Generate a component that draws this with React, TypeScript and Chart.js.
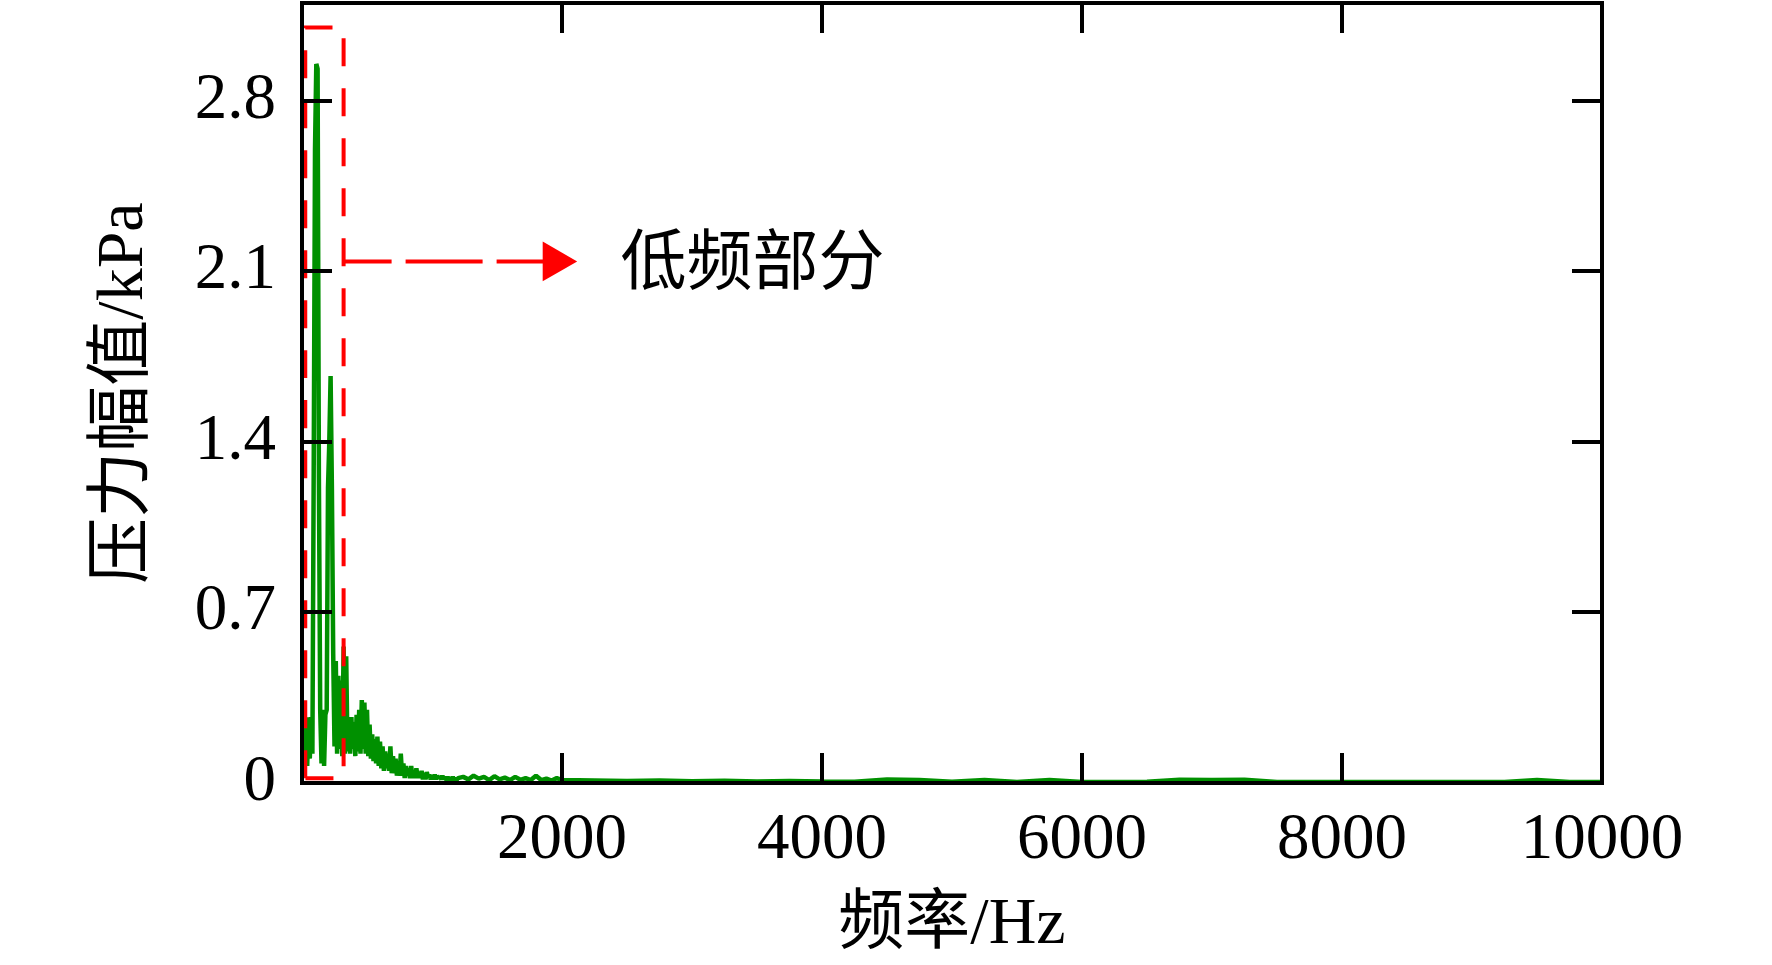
import { useEffect, useRef } from "react";
import { Chart, registerables } from "chart.js";

Chart.register(...registerables);

// Pressure amplitude spectrum (kPa).
// 0–1200 Hz, one bin every 10 Hz
const LOW_START_HZ = 0;
const LOW_STEP_HZ = 10;
const LOW_AMP = [
  0.04, 0.20, 0.05, 0.24, 0.07, 0.27, 0.10, 0.27, 0.12, 1.28,
  2.60, 2.95, 2.93, 1.25, 0.30, 0.08, 0.30, 0.07, 0.28, 0.30,
  1.21, 1.40, 1.67, 1.21, 0.53, 0.15, 0.50, 0.12, 0.44, 0.14,
  0.42, 0.11, 0.56, 0.12, 0.52, 0.13, 0.26, 0.12, 0.27, 0.14,
  0.25, 0.11, 0.28, 0.13, 0.30, 0.12, 0.34, 0.14, 0.33, 0.12,
  0.30, 0.11, 0.24, 0.10, 0.20, 0.09, 0.18, 0.08, 0.19, 0.07,
  0.17, 0.06, 0.15, 0.05, 0.13, 0.06, 0.12, 0.05, 0.15, 0.04,
  0.11, 0.04, 0.10, 0.03, 0.09, 0.03, 0.12, 0.03, 0.08, 0.02,
  0.07, 0.03, 0.06, 0.02, 0.07, 0.02, 0.05, 0.02, 0.06, 0.02,
  0.045, 0.02, 0.05, 0.015, 0.04, 0.015, 0.045, 0.02, 0.035, 0.015,
  0.03, 0.015, 0.035, 0.015, 0.03, 0.02, 0.025, 0.015, 0.03, 0.015,
  0.025, 0.012, 0.025, 0.012, 0.022, 0.012, 0.025, 0.012, 0.02, 0.012,
  0.02,
];
// 1240–2000 Hz, every 40 Hz
const MID_START_HZ = 1240;
const MID_STEP_HZ = 40;
const MID_AMP = [
  0.025, 0.015, 0.03, 0.018, 0.025, 0.012, 0.028, 0.015, 0.022, 0.012,
  0.025, 0.013, 0.02, 0.012, 0.03, 0.012, 0.018, 0.01, 0.02, 0.012,
];
// 2250–10000 Hz, every 250 Hz
const HIGH_START_HZ = 2250;
const HIGH_STEP_HZ = 250;
const HIGH_AMP = [
  0.010, 0.008, 0.010, 0.007, 0.009, 0.006, 0.008, 0.006, 0.005, 0.014,
  0.012, 0.005, 0.012, 0.004, 0.012, 0.004, 0.004, 0.005, 0.013, 0.012,
  0.013, 0.004, 0.004, 0.004, 0.004, 0.004, 0.004, 0.004, 0.004, 0.012,
  0.004, 0.004,
];

const X_TICKS = [0, 2000, 4000, 6000, 8000, 10000];
const Y_TICKS = [0, 0.7, 1.4, 2.1, 2.8];
const X_MAX = 10000;
const Y_MAX = 3.2;

const X_TITLE = "频率/Hz";
const Y_TITLE = "压力幅值/kPa";

// low-frequency callout (data units)
const BOX_HZ = [25, 320];
const BOX_KPA = [0.02, 3.1];
const ARROW_KPA = 2.14;
const ARROW_HEAD_HZ = 1940;
const NOTE_TEXT = "低频部分";
const NOTE_AT_HZ = 2450;
const NOTE_AT_KPA = 2.15;

const SERIF = '"Liberation Serif", "Noto Sans CJK SC", serif';
const CJK = '"Noto Sans CJK SC", sans-serif';
const GREEN = "#009000";
const RED = "#ff0000";

function band(start: number, step: number, amps: number[]) {
  return amps.map((y, i) => ({ x: start + i * step, y }));
}

const noteLabel = {
  id: "noteLabel",
  afterDatasetsDraw(chart: any) {
    const { ctx, scales } = chart;
    ctx.save();
    ctx.font = `66px ${CJK}`;
    ctx.fillStyle = "#000";
    ctx.textAlign = "left";
    ctx.textBaseline = "middle";
    ctx.fillText(
      NOTE_TEXT,
      scales.x.getPixelForValue(NOTE_AT_HZ),
      scales.y.getPixelForValue(NOTE_AT_KPA)
    );
    ctx.restore();
  },
};

export default function App() {
  const canvasRef = useRef<HTMLCanvasElement>(null);

  useEffect(() => {
    if (!canvasRef.current) return;

    const spectrum = [
      ...band(LOW_START_HZ, LOW_STEP_HZ, LOW_AMP),
      ...band(MID_START_HZ, MID_STEP_HZ, MID_AMP),
      ...band(HIGH_START_HZ, HIGH_STEP_HZ, HIGH_AMP),
    ];

    const box = [
      { x: BOX_HZ[0], y: BOX_KPA[0] },
      { x: BOX_HZ[0], y: BOX_KPA[1] },
      { x: BOX_HZ[1], y: BOX_KPA[1] },
      { x: BOX_HZ[1], y: BOX_KPA[0] },
      { x: BOX_HZ[0], y: BOX_KPA[0] },
    ];

    const tickFont = { family: SERIF, size: 65 };
    const titleFont = { family: SERIF, size: 66 };
    const frame = { display: true, color: "#000", width: 4, z: 1 };
    const grid = {
      drawOnChartArea: false,
      drawTicks: true,
      tickLength: -30, // inward ticks
      lineWidth: 4,
      color: "#000",
      z: 1,
    };
    const xTicks = (s: any) => { s.ticks = X_TICKS.map((value) => ({ value })); };
    const yTicks = (s: any) => { s.ticks = Y_TICKS.map((value) => ({ value })); };

    const chart = new Chart(canvasRef.current, {
      type: "scatter",
      data: {
        datasets: [
          {
            data: box,
            showLine: true,
            borderColor: RED,
            borderWidth: 4,
            borderDash: [28, 22],
            pointRadius: 0,
            order: 0,
          },
          {
            data: [
              { x: BOX_HZ[1], y: ARROW_KPA },
              { x: ARROW_HEAD_HZ, y: ARROW_KPA },
            ],
            showLine: true,
            borderColor: RED,
            borderWidth: 4,
            borderDash: [77, 14],
            borderDashOffset: 29,
            pointRadius: 0,
            order: 0,
          },
          {
            data: [{ x: ARROW_HEAD_HZ, y: ARROW_KPA }],
            showLine: false,
            pointStyle: "triangle",
            pointRotation: 90,
            pointRadius: 23,
            pointHoverRadius: 23,
            pointBorderWidth: 0,
            pointBackgroundColor: RED,
            order: 0,
          },
          {
            data: spectrum,
            showLine: true,
            borderColor: GREEN,
            borderWidth: 4.5,
            borderJoinStyle: "bevel",
            pointRadius: 0,
            tension: 0,
            order: 1,
          },
        ],
      },
      options: {
        animation: false,
        responsive: true,
        maintainAspectRatio: false,
        layout: { autoPadding: false, padding: { left: 0, right: 170, top: 3, bottom: 0 } },
        plugins: { legend: { display: false }, tooltip: { enabled: false } },
        scales: {
          x: {
            type: "linear",
            position: "bottom",
            min: 0,
            max: X_MAX,
            afterBuildTicks: xTicks,
            afterFit: (s: any) => { s.height = 182; s.paddingLeft = 0; s.paddingRight = 0; },
            ticks: {
              font: tickFont,
              color: "#000",
              padding: 49,
              maxRotation: 0,
              autoSkip: false,
              callback: (v: any) => (v === 0 ? "" : String(v)),
            },
            grid,
            border: frame,
            title: {
              display: true,
              text: X_TITLE,
              font: titleFont,
              color: "#000",
              padding: { top: 0, bottom: 0 },
            },
          },
          xTop: {
            type: "linear",
            position: "top",
            min: 0,
            max: X_MAX,
            afterBuildTicks: xTicks,
            afterFit: (s: any) => { s.height = 0; s.paddingLeft = 0; s.paddingRight = 0; },
            ticks: { display: false },
            grid,
            border: frame,
          },
          y: {
            type: "linear",
            position: "left",
            min: 0,
            max: Y_MAX,
            afterBuildTicks: yTicks,
            afterFit: (s: any) => { s.width = 302; s.paddingTop = 0; s.paddingBottom = 0; },
            ticks: {
              font: tickFont,
              color: "#000",
              padding: 56,
              autoSkip: false,
              callback: (v: any) => (v === 0 ? "0" : Number(v).toFixed(1)),
            },
            grid,
            border: frame,
            title: {
              display: true,
              text: Y_TITLE,
              font: titleFont,
              color: "#000",
              padding: { top: 85, bottom: 0 },
            },
          },
          yRight: {
            type: "linear",
            position: "right",
            min: 0,
            max: Y_MAX,
            afterBuildTicks: yTicks,
            afterFit: (s: any) => { s.width = 0; s.paddingTop = 0; s.paddingBottom = 0; },
            ticks: { display: false },
            grid,
            border: frame,
          },
        },
      } as any,
      plugins: [noteLabel],
    });

    return () => chart.destroy();
  }, []);

  return (
    <div
      style={{
        position: "absolute",
        left: 0,
        top: 0,
        width: 1772,
        height: 965,
        background: "#fff",
      }}
    >
      <canvas ref={canvasRef} />
    </div>
  );
}
